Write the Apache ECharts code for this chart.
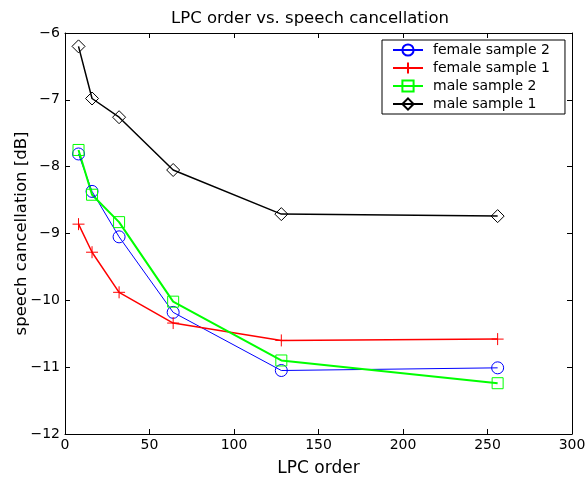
<!DOCTYPE html>
<html>
<head>
<meta charset="utf-8">
<script src="https://cdn.jsdelivr.net/npm/echarts@6.0.0/dist/echarts.min.js"></script>
<style>
  html, body { margin: 0; padding: 0; background: #fff; }
  #chart { width: 585px; height: 479px; }
</style>
</head>
<body>
<div id="chart"></div>
<script>
// LPC orders tested
const lpcOrders = [8, 16, 32, 64, 128, 256];

// Speech cancellation in dB for each recording
const female2 = [-7.81, -8.37, -9.05, -10.18, -11.05, -11.01];
const female1 = [-8.86, -9.28, -9.88, -10.34, -10.60, -10.58];
const male2   = [-7.75, -8.42, -8.83, -10.02, -10.90, -11.24];
const male1   = [-6.20, -6.98, -7.26, -8.05, -8.71, -8.74];

const xTicks = { min: 0, max: 300, interval: 50 };
const yTicks = { min: -12, max: -6, interval: 1 };

const FONT = '"DejaVu Sans", sans-serif';
const plusPath = 'path://M-5,0L5,0M0,-5L0,5';

function pairs(ys) {
  return lpcOrders.map((x, i) => [x, ys[i]]);
}

function makeSeries(name, ys, color, symbol, size, width) {
  return {
    name: name,
    type: 'line',
    data: pairs(ys),
    symbol: symbol,
    symbolSize: size,
    showSymbol: true,
    lineStyle: { color: color, width: width },
    itemStyle: { color: 'rgba(0,0,0,0)', borderColor: color, borderWidth: 1 },
    emphasis: { disabled: true },
    animation: false,
    z: 3
  };
}

const minus = v => (v < 0 ? '\u2212' : '') + Math.abs(v);

const axisCommon = {
  axisLine: { show: true, onZero: false, lineStyle: { color: '#000', width: 1 } },
  axisTick: { show: true, inside: true, length: 5, lineStyle: { color: '#000' } },
  splitLine: { show: false }
};

const chart = echarts.init(document.getElementById('chart'), null, { renderer: 'canvas' });
chart.setOption({
  backgroundColor: '#fff',
  animation: false,
  title: {
    text: 'LPC order vs. speech cancellation',
    left: 305, textAlign: 'center', top: 5,
    textStyle: { fontFamily: FONT, fontSize: 16.5, fontWeight: 'normal', color: '#000' }
  },
  legend: {
    orient: 'vertical',
    left: 382, top: 40,
    backgroundColor: '#fff',
    borderColor: '#000', borderWidth: 1,
    padding: [3, 15, 3, 10],
    itemWidth: 30, itemHeight: 14, itemGap: 4,
    textStyle: { fontFamily: FONT, fontSize: 14, color: '#000', padding: [0, 0, 0, 5] },
    data: ['female sample 2', 'female sample 1', 'male sample 2', 'male sample 1']
  },
  grid: { left: 65, right: 13, top: 33, bottom: 45, containLabel: false, outerBoundsMode: 'none' },
  xAxis: [
    Object.assign({
      type: 'value', position: 'bottom',
      min: xTicks.min, max: xTicks.max, interval: xTicks.interval,
      name: 'LPC order', nameLocation: 'middle', nameGap: 26, nameMoveOverlap: false,
      nameTextStyle: { fontFamily: FONT, fontSize: 17, color: '#000' },
      axisLabel: { fontFamily: FONT, fontSize: 14, color: '#000', margin: 4 }
    }, axisCommon),
    Object.assign({
      type: 'value', position: 'top',
      min: xTicks.min, max: xTicks.max, interval: xTicks.interval,
      axisLabel: { show: false }
    }, axisCommon)
  ],
  yAxis: [
    Object.assign({
      type: 'value', position: 'left',
      min: yTicks.min, max: yTicks.max, interval: yTicks.interval,
      name: 'speech cancellation [dB]', nameLocation: 'middle', nameGap: 35, nameMoveOverlap: false,
      nameTextStyle: { fontFamily: FONT, fontSize: 16.5, color: '#000' },
      axisLabel: { fontFamily: FONT, fontSize: 14, color: '#000', margin: 5, formatter: minus }
    }, axisCommon),
    Object.assign({
      type: 'value', position: 'right',
      min: yTicks.min, max: yTicks.max, interval: yTicks.interval,
      axisLabel: { show: false }
    }, axisCommon)
  ],
  series: [
    makeSeries('female sample 2', female2, '#0000ff', 'circle', 12, 1),
    makeSeries('female sample 1', female1, '#ff0000', plusPath, 12, 1.5),
    makeSeries('male sample 2', male2, '#00ff00', 'rect', 11, 2),
    makeSeries('male sample 1', male1, '#000000', 'diamond', 13, 1.5)
  ]
});
</script>
</body>
</html>
